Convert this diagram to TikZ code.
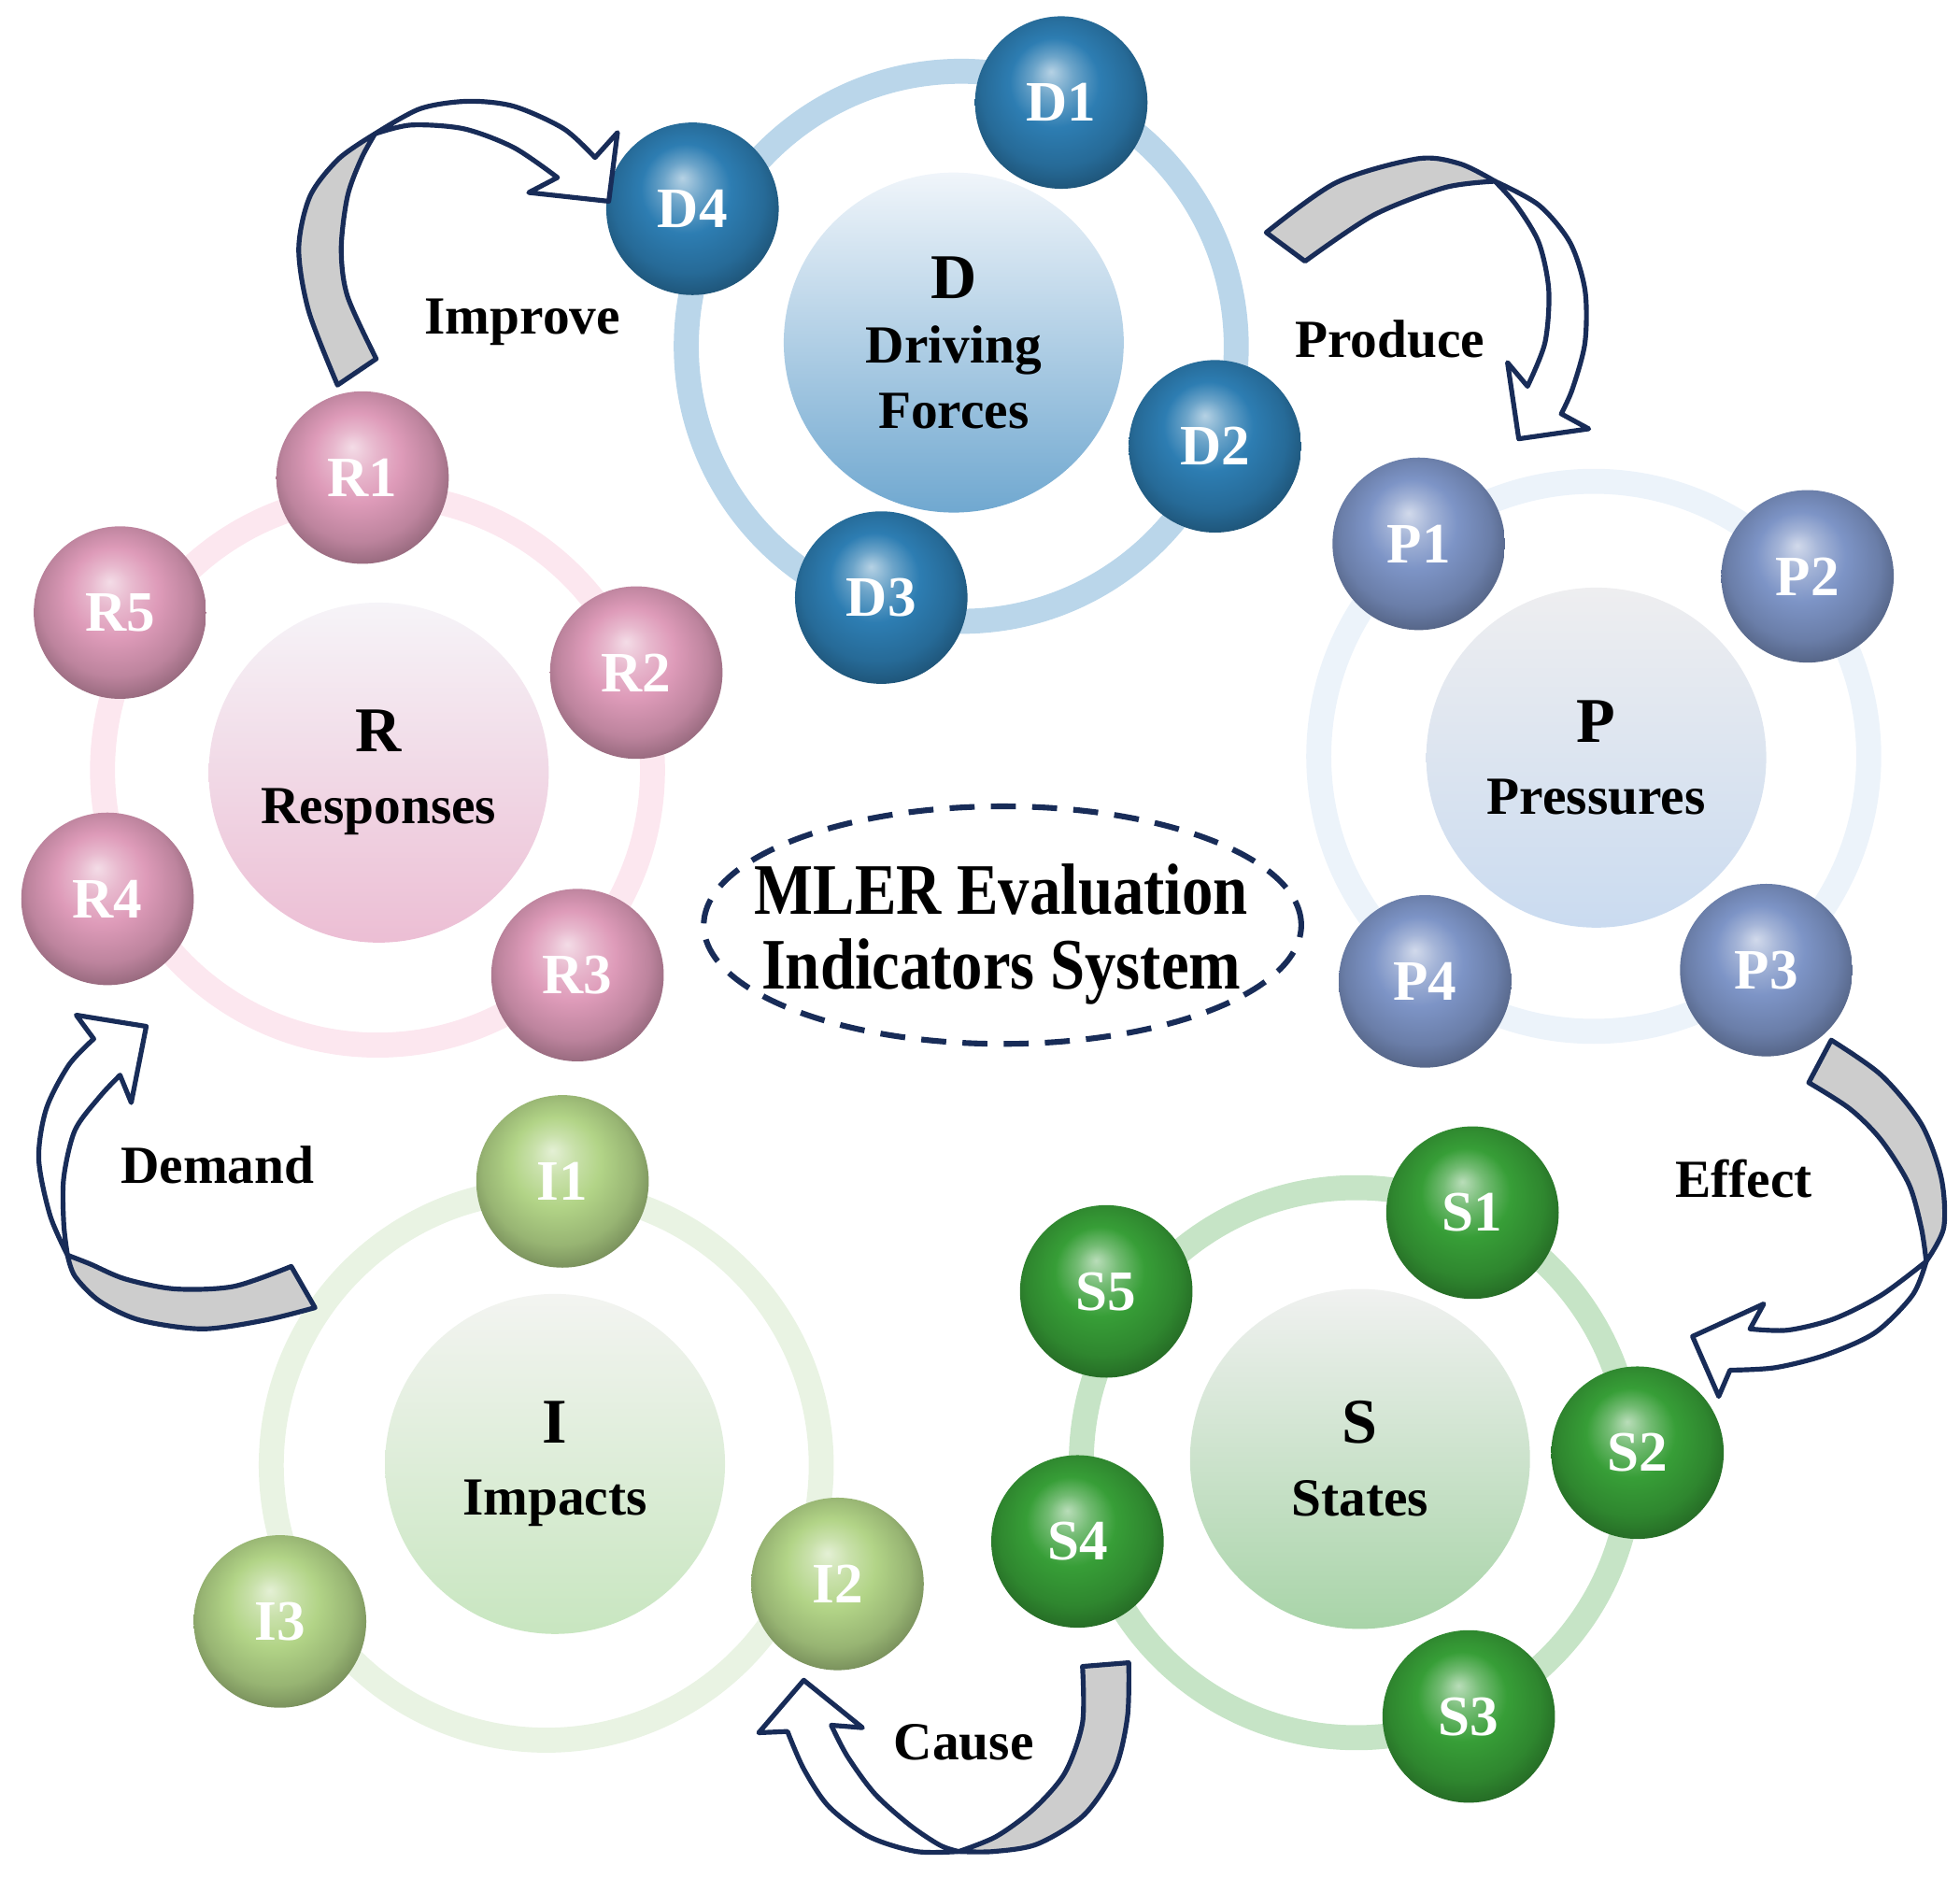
\documentclass[tikz,border=0pt]{standalone}
\usepackage{fontspec}
\setmainfont{Liberation Serif}
\usetikzlibrary{shapes.geometric}
\definecolor{navy}{RGB}{24,44,88}
\definecolor{bandgrey}{RGB}{205,205,205}
\definecolor{dball}{RGB}{45,125,178}
\definecolor{pball}{RGB}{125,148,198}
\definecolor{rball}{RGB}{222,155,185}
\definecolor{iball}{RGB}{178,212,135}
\definecolor{sball}{RGB}{55,158,55}
\definecolor{dring}{RGB}{186,214,234}
\definecolor{pring}{RGB}{236,243,250}
\definecolor{rring}{RGB}{252,231,239}
\definecolor{iring}{RGB}{233,243,227}
\definecolor{sring}{RGB}{198,228,198}
\definecolor{dtop}{RGB}{240,245,250}
\definecolor{dbot}{RGB}{112,168,208}
\definecolor{ptop}{RGB}{238,238,240}
\definecolor{pbot}{RGB}{202,219,240}
\definecolor{rtop}{RGB}{246,244,248}
\definecolor{rbot}{RGB}{236,190,212}
\definecolor{itop}{RGB}{243,244,241}
\definecolor{ibot}{RGB}{200,230,192}
\definecolor{stop}{RGB}{240,241,240}
\definecolor{sbot}{RGB}{168,212,168}
\colorlet{ballbase}{dball}
\pgfdeclareradialshading[ballbase]{glass}{\pgfpoint{-3bp}{9bp}}{%
  color(0bp)=(ballbase!35!white); color(6bp)=(ballbase!70!white);
  color(13bp)=(ballbase); color(22bp)=(ballbase!85!black);
  color(30bp)=(ballbase!60!black); color(36bp)=(ballbase!50!black)}
\tikzset{
  sphere/.style={circle, minimum size=13.8mm, inner sep=0pt,
    /utils/exec={\colorlet{ballbase}{#1}}, shading=glass, shade, text=white,
    font=\fontsize{13}{14}\selectfont\bfseries},
  hub/.style 2 args={circle, minimum size=27.2mm, inner sep=0pt, align=center,
    top color=#1, bottom color=#2, font=\fontsize{12.2}{14.8}\selectfont\bfseries},
  orbit/.style={circle, draw=#1, line width=2mm, minimum size=44mm, inner sep=0pt},
  backface/.style={draw=navy, fill=bandgrey, line width=1.1pt, line join=round},
  frontface/.style={draw=navy, fill=white, line width=1.1pt, line join=round},
  flowlabel/.style={font=\fontsize{12.2}{14}\selectfont\bfseries}
}
\newcommand{\hubletter}[1]{{\fontsize{14.5}{14.8}\selectfont #1}}
\begin{document}
\begin{tikzpicture}[x=0.1mm,y=-0.1mm]
\useasboundingbox (0,0) rectangle (1568,1502);
\node[orbit=dring] (Dorbit) at (769,277) {};
\node[orbit=pring] (Porbit) at (1275,605) {};
\node[orbit=rring] (Rorbit) at (302,616) {};
\node[orbit=iring] (Iorbit) at (437,1172) {};
\node[orbit=sring] (Sorbit) at (1085,1170) {};
\node[hub={dtop}{dbot}] (D) at (763,274) {\hubletter{D}\\Driving\\Forces};
\node[hub={ptop}{pbot}] (P) at (1277,606) {\hubletter{P}\\[1.7pt]Pressures};
\node[hub={rtop}{rbot}] (R) at (303,618) {\hubletter{R}\\[1.7pt]Responses};
\node[hub={itop}{ibot}] (I) at (444,1171) {\hubletter{I}\\[1.7pt]Impacts};
\node[hub={stop}{sbot}] (S) at (1088,1167) {\hubletter{S}\\[1.7pt]States};
\foreach \n/\p in {1/{849,82},2/{972,357},3/{705,478},4/{554,167}}
  \node[sphere=dball] (D\n) at (\p) {\raisebox{-0.7mm}{D\n}};
\foreach \n/\p in {1/{1135,435},2/{1446,461},3/{1413,776},4/{1140,785}}
  \node[sphere=pball] (P\n) at (\p) {\raisebox{-0.7mm}{P\n}};
\foreach \n/\p in {1/{290,382},2/{509,538},3/{462,780},4/{86,719},5/{96,490}}
  \node[sphere=rball] (R\n) at (\p) {\raisebox{-0.7mm}{R\n}};
\foreach \n/\p in {1/{450,945},2/{670,1267},3/{224,1297}}
  \node[sphere=iball] (I\n) at (\p) {\raisebox{-0.7mm}{I\n}};
\foreach \n/\p in {1/{1178,970},2/{1310,1162},3/{1175,1373},4/{862,1233},5/{885,1033}}
  \node[sphere=sball] (S\n) at (\p) {\raisebox{-0.7mm}{S\n}};
\node[align=center, font=\fontsize{16.5}{17}\selectfont\bfseries] (mler) at (801,747)
  {\scalebox{0.86}[1]{MLER Evaluation}\\\scalebox{0.86}[1]{Indicators System}};
\draw[navy, line width=1.3pt, dash pattern=on 2mm off 1.3mm] (802,740) ellipse [x radius=23.9mm, y radius=9.5mm];
\coordinate (improveTip) at (487,161);
\coordinate (produceTip) at (1215,351);
\coordinate (effectTip) at (1354,1069);
\coordinate (causeTip) at (643,1344);
\coordinate (demandTip) at (117,821);
\filldraw[backface] plot[smooth] coordinates {(270,308) (247,249) (239,199) (248,157) (271,127) (300,107)}
  -- plot[smooth] coordinates {(300,107) (289,127) (278,157) (273,199) (278,237) (301,287)} -- cycle;
\filldraw[frontface] plot[smooth] coordinates {(300,107) (336,87) (374,81) (411,85) (451,103) (476,126)}
  -- (494,106) -- (improveTip) -- (423,154) -- (446,142)
  -- plot[smooth] coordinates {(446,142) (411,118) (371,103) (329,100) (300,107)} -- cycle;
\filldraw[backface] plot[smooth] coordinates {(1013,186) (1069,146) (1134,127) (1168,131) (1196,145)}
  -- plot[smooth] coordinates {(1196,145) (1156,150) (1099,172) (1044,209)} -- cycle;
\filldraw[frontface] plot[smooth] coordinates {(1196,145) (1231,164) (1256,194) (1268,232) (1268,274) (1258,311) (1249,331)}
  -- (1271,343) -- (produceTip) -- (1206,290) -- (1222,309)
  -- plot[smooth] coordinates {(1222,309) (1236,274) (1239,232) (1231,194) (1213,164) (1196,145)} -- cycle;
\filldraw[backface] plot[smooth] coordinates {(1465,832) (1505,860) (1537,899) (1553,942) (1555,982) (1541,1009)}
  -- plot[smooth] coordinates {(1541,1009) (1537,982) (1527,947) (1505,912) (1480,887) (1447,866)} -- cycle;
\filldraw[frontface] plot[smooth] coordinates {(1541,1009) (1530,1036) (1500,1066) (1460,1084) (1420,1094) (1384,1096)}
  -- (1375,1117) -- (effectTip) -- (1411,1043) -- (1400,1063)
  -- plot[smooth] coordinates {(1400,1063) (1430,1064) (1467,1055) (1505,1036) (1541,1009)} -- cycle;
\filldraw[backface] plot[smooth] coordinates {(903,1330) (902,1373) (892,1415) (867,1452) (830,1475) (795,1481) (767,1481)}
  -- plot[smooth] coordinates {(767,1481) (797,1469) (827,1447) (852,1418) (866,1378) (866,1333)} -- cycle;
\filldraw[frontface] plot[smooth] coordinates {(767,1481) (733,1481) (695,1469) (663,1445) (643,1415) (630,1385)}
  -- (607,1386) -- (causeTip) -- (690,1382) -- (665,1380)
  -- plot[smooth] coordinates {(665,1380) (678,1405) (700,1435) (728,1460) (752,1476) (767,1481)} -- cycle;
\filldraw[backface] plot[smooth] coordinates {(252,1046) (212,1056) (162,1063) (112,1056) (80,1041) (60,1021) (54,1004)}
  -- plot[smooth] coordinates {(54,1004) (72,1011) (100,1023) (140,1031) (187,1029) (233,1013)} -- cycle;
\filldraw[frontface] plot[smooth] coordinates {(54,1004) (40,972) (31,927) (37,887) (55,852) (75,831)}
  -- (61,812) -- (demandTip) -- (105,882) -- (96,860)
  -- plot[smooth] coordinates {(96,860) (80,877) (60,904) (51,942) (51,979) (54,1004)} -- cycle;
\node[flowlabel] (improve) at (418,258) {Improve};
\node[flowlabel] (produce) at (1112,271) {Produce};
\node[flowlabel] (effect) at (1395,943) {Effect};
\node[flowlabel] (cause) at (771,1394) {Cause};
\node[flowlabel] (demand) at (174,932) {Demand};
\end{tikzpicture}
\end{document}
